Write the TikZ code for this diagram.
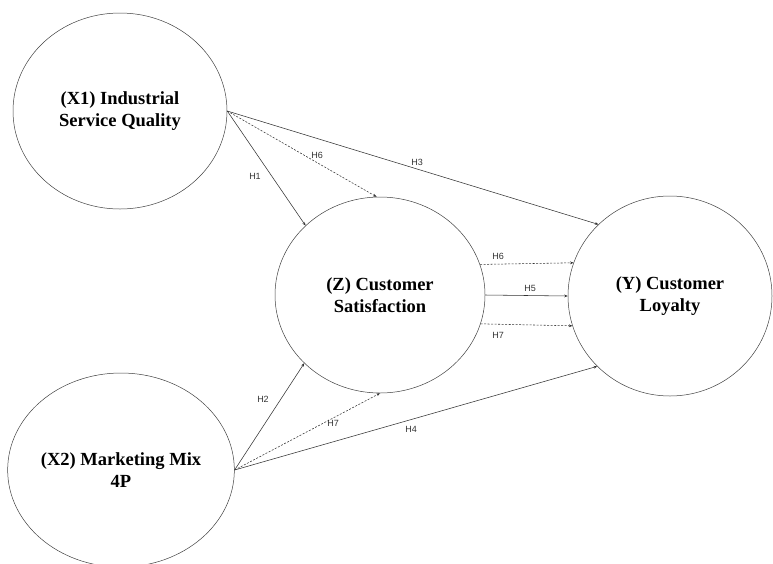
\documentclass[tikz,border=0pt]{standalone}
\usepackage{fontspec}
\setmainfont{Liberation Serif}
\newfontfamily\labfont{Liberation Sans}
\usetikzlibrary{shapes.geometric,arrows.meta}
\begin{document}
\begin{tikzpicture}[x=1pt,y=-1pt,
  construct/.style={ellipse,draw=black!75,line width=0.5pt,inner sep=0pt,align=center,
     font=\fontsize{18.5}{22}\selectfont\bfseries},
  link/.style={draw=black!80,line width=0.55pt,-{Stealth[length=3.5pt,width=2.8pt]}},
  dlink/.style={link,dash pattern=on 2pt off 1.5pt},
  hlab/.style={font=\labfont\fontsize{9}{10}\selectfont,text=black!80,inner sep=1pt}]
\useasboundingbox (0,0) rectangle (773,563);
\clip (0,0) rectangle (773,563);
\node[construct,minimum width=214pt,minimum height=196pt] (X1) at (120,111) {(X1) Industrial\\Service Quality};
\node[construct,minimum width=214pt,minimum height=194pt] (X2) at (121,470) {(X2) Marketing Mix\\4P};
\node[construct,minimum width=210pt,minimum height=196pt] (Z) at (380,295) {(Z) Customer\\Satisfaction};
\node[construct,minimum width=204pt,minimum height=200pt] (Y) at (670,296) {(Y) Customer\\Loyalty};
% connectors
\draw[link] (X1.east) -- (Z.137.7);
\draw[dlink] (X1.east) -- (Z.92);
\draw[link] (X1.east) -- (Y.135.4);
\draw[link] (X2.east) -- (Z.222.3);
\draw[dlink] (X2.east) -- (Z.270);
\draw[link] (X2.east) -- (Y.224.6);
\draw[dlink] (Z.17.2) -- (Y.161.4);
\draw[link] (Z.east) -- (Y.west);
\draw[dlink] (Z.-16.9) -- (Y.197.5);
% labels
\node[hlab] (h1) at (255,176) {H1};
\node[hlab] (h6a) at (317,155) {H6};
\node[hlab] (h3) at (417,162) {H3};
\node[hlab] (h6b) at (498,256) {H6};
\node[hlab] (h5) at (530,288) {H5};
\node[hlab] (h7b) at (498,335) {H7};
\node[hlab] (h2) at (263,399) {H2};
\node[hlab] (h7a) at (333,423) {H7};
\node[hlab] (h4) at (411,429) {H4};
\end{tikzpicture}
\end{document}
